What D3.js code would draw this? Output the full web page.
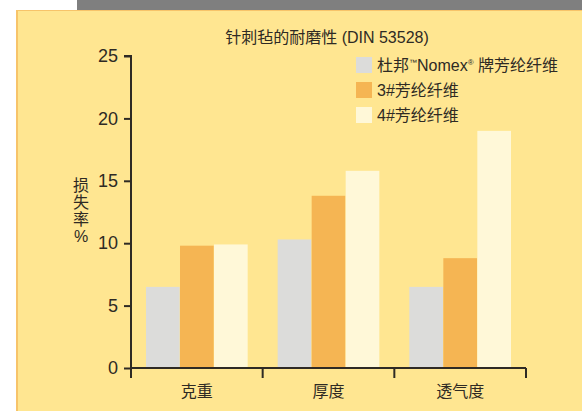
<!DOCTYPE html>
<html>
<head>
<meta charset="utf-8">
<script src="https://cdn.jsdelivr.net/npm/d3@7"></script>
<style>
    body { margin: 0; background: #fff; }
    svg { display: block; font-family: "Liberation Sans", Arial, "Noto Sans CJK SC", sans-serif; }
</style>
</head>
<body>
<div id="chart"></div>
<script>
const categories = ['克重', '厚度', '透气度'];
const seriesNames = ['nomex', 'aramid3', 'aramid4'];
const nomexValues = [6.5, 10.3, 6.5];
const aramid3Values = [9.8, 13.8, 8.8];
const aramid4Values = [9.9, 15.8, 19.0];
const yTicks = [0, 5, 10, 15, 20, 25];
const seriesColors = ['#dcdcda', '#f5b553', '#fff8d8'];

const WIDTH = 582;
const HEIGHT = 411;
const TEXT_COLOR = '#2e2a24';

const svg = d3.select('#chart').append('svg')
    .attr('width', WIDTH)
    .attr('height', HEIGHT);

// page frame: grey strip on top, yellow panel with orange edge
svg.append('rect').attr('x', 77).attr('y', 0).attr('width', WIDTH - 77).attr('height', 10).attr('fill', '#7f7f7f');
svg.append('rect').attr('x', 16).attr('y', 10).attr('width', WIDTH - 16).attr('height', HEIGHT - 10).attr('fill', '#f7c46a');
svg.append('rect').attr('x', 18).attr('y', 11).attr('width', WIDTH - 18).attr('height', HEIGHT - 11).attr('fill', '#ffe691');

const margin = { left: 131, top: 56, right: 56, bottom: 43 };
const innerWidth = 526 - margin.left;
const innerHeight = 368 - margin.top;

const x = d3.scaleBand().domain(categories).range([margin.left, margin.left + innerWidth]);
const xSub = d3.scaleBand().domain(seriesNames).range([15, x.bandwidth() - 15]).paddingInner(0.01);
const y = d3.scaleLinear().domain([0, 25]).range([margin.top + innerHeight, margin.top]);

const rows = categories.map((c, i) => ({
    category: c,
    values: [nomexValues[i], aramid3Values[i], aramid4Values[i]]
}));

// bars
svg.append('g').selectAll('g')
    .data(rows)
    .join('g')
    .attr('transform', d => `translate(${x(d.category)},0)`)
    .selectAll('rect')
    .data(d => d.values.map((v, i) => ({ key: seriesNames[i], value: v, color: seriesColors[i] })))
    .join('rect')
    .attr('x', d => xSub(d.key))
    .attr('width', xSub.bandwidth())
    .attr('y', d => y(d.value))
    .attr('height', d => y(0) - y(d.value))
    .attr('fill', d => d.color);

// y axis
const yAxis = svg.append('g')
    .attr('transform', `translate(${margin.left},0)`)
    .call(d3.axisLeft(y).tickValues(yTicks).tickSize(7).tickPadding(6));
yAxis.select('.domain').attr('d', `M-7,${y(25)}H0V${y(0) + 10}`);
yAxis.selectAll('.domain, .tick line').attr('stroke', TEXT_COLOR).attr('stroke-width', 2);
yAxis.selectAll('.tick text').attr('font-size', 18).attr('fill', TEXT_COLOR);

// x axis with ticks on band boundaries
const xAxis = svg.append('g')
    .attr('transform', `translate(0,${y(0)})`);
const bounds = categories.map(c => x(c)).concat([x.range()[1]]);
xAxis.append('path')
    .attr('d', `M${margin.left},0H${x.range()[1]}`)
    .attr('stroke', TEXT_COLOR).attr('stroke-width', 2).attr('fill', 'none');
xAxis.selectAll('line.boundary')
    .data(bounds)
    .join('line')
    .attr('class', 'boundary')
    .attr('x1', d => d).attr('x2', d => d)
    .attr('y1', 0).attr('y2', 10)
    .attr('stroke', TEXT_COLOR).attr('stroke-width', 2);
xAxis.selectAll('text')
    .data(categories)
    .join('text')
    .attr('x', d => x(d) + x.bandwidth() / 2)
    .attr('y', 29)
    .attr('text-anchor', 'middle')
    .attr('font-size', 16)
    .attr('fill', TEXT_COLOR)
    .text(d => d);

// title
svg.append('text')
    .attr('x', 327).attr('y', 43)
    .attr('text-anchor', 'middle')
    .attr('font-size', 16)
    .attr('fill', TEXT_COLOR)
    .text('针刺毡的耐磨性 (DIN 53528)');

// y label, stacked vertically
svg.append('text')
    .attr('x', 81).attr('y', 191)
    .attr('text-anchor', 'middle')
    .attr('font-size', 16)
    .attr('fill', TEXT_COLOR)
    .selectAll('tspan')
    .data(['损', '失', '率', '%'])
    .join('tspan')
    .attr('x', 81)
    .attr('dy', (d, i) => i === 0 ? 0 : 17)
    .text(d => d);

// legend
const legend = svg.append('g').attr('transform', 'translate(356,57)');
const legendItems = legend.selectAll('g')
    .data(seriesNames)
    .join('g')
    .attr('transform', (d, i) => `translate(0,${i * 25})`);
legendItems.append('rect')
    .attr('width', 16).attr('height', 16)
    .attr('fill', (d, i) => seriesColors[i]);
const legendText = legendItems.append('text')
    .attr('x', 21).attr('y', 14)
    .attr('font-size', 16)
    .attr('fill', TEXT_COLOR);
legendText.filter((d, i) => i === 0).each(function () {
    const t = d3.select(this);
    t.append('tspan').text('杜邦');
    t.append('tspan').attr('font-size', 8).attr('dy', -6).text('™');
    t.append('tspan').attr('dy', 6).text('Nomex');
    t.append('tspan').attr('font-size', 8).attr('dy', -6).text('®');
    t.append('tspan').attr('dy', 6).text(' 牌芳纶纤维');
});
legendText.filter((d, i) => i === 1).text('3#芳纶纤维');
legendText.filter((d, i) => i === 2).text('4#芳纶纤维');
</script>
</body>
</html>
